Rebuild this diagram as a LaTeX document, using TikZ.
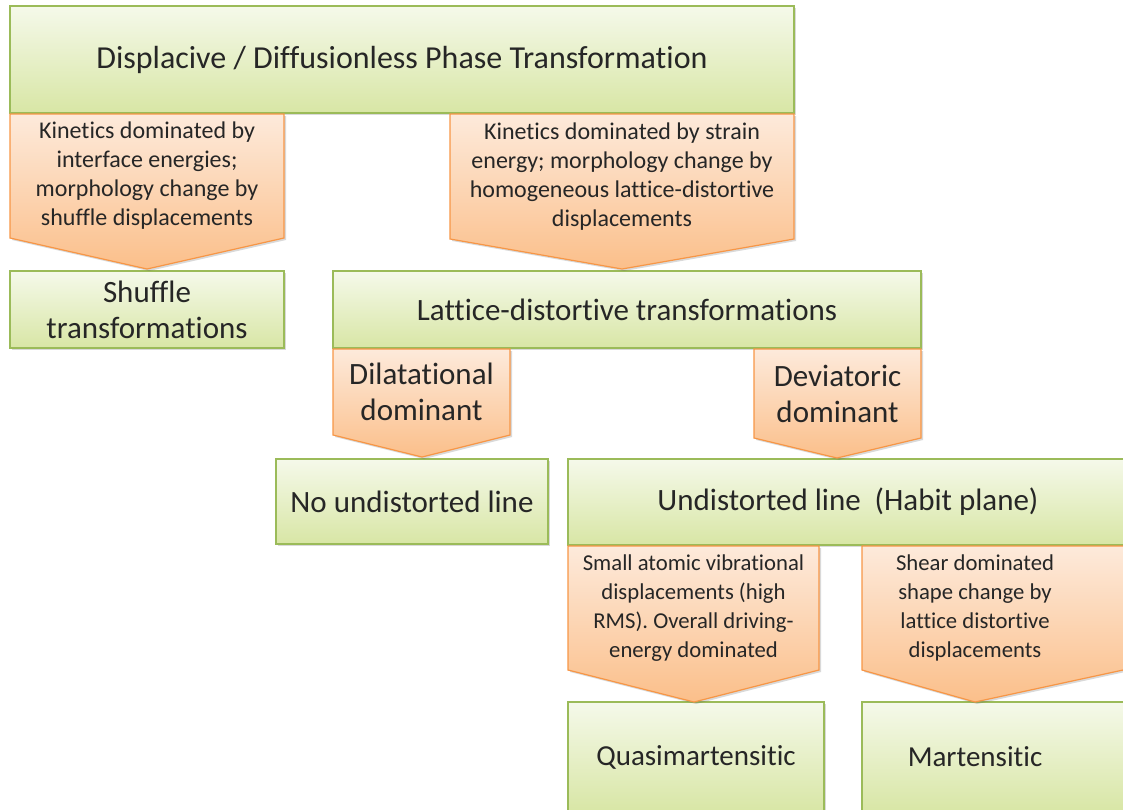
\documentclass[tikz,border=0pt]{standalone}
\usepackage{fontspec}
\setmainfont{Carlito}[Ligatures={NoCommon}]
\usetikzlibrary{shadows}

\definecolor{greentop}{HTML}{F5F9EA}
\definecolor{greenbot}{HTML}{D8E6A5}
\definecolor{greenline}{HTML}{9BBB59}
\definecolor{orangetop}{HTML}{FDEADB}
\definecolor{orangebot}{HTML}{FBBF8A}
\definecolor{orangeline}{HTML}{F79646}
\definecolor{inktext}{HTML}{262626}

\tikzset{
  greenbox/.style={rectangle,draw=greenline,line width=1.2pt,top color=greentop,bottom color=greenbot,
    inner sep=0pt,text=inktext,font=\fontsize{31}{36}\selectfont,align=center,
    drop shadow={shadow xshift=2pt,shadow yshift=-2pt,opacity=.25,fill=black!60}},
  orangebox/.style={draw=orangeline,line width=1.2pt,top color=orangetop,bottom color=orangebot,line join=miter,
    drop shadow={shadow xshift=2pt,shadow yshift=-2pt,opacity=.25,fill=black!60}},
  smalltext/.style={text=inktext,font=\fontsize{24}{29}\selectfont,align=center,inner sep=0pt},
  bigtext/.style={text=inktext,font=\fontsize{31}{36}\selectfont,align=center,inner sep=0pt}
}

\begin{document}
\begin{tikzpicture}[x=1pt,y=-1pt]
\useasboundingbox (0,0) rectangle (1123,809);

% green boxes
\node[greenbox,minimum width=784pt,minimum height=107pt,font=\fontsize{32}{38}\selectfont] (disp) at (402,59.5) {Displacive / Diffusionless Phase Transformation};
\node[greenbox,minimum width=274pt,minimum height=77pt] (shuf) at (147,309.5) {Shuffle\\transformations};
\node[greenbox,minimum width=588pt,minimum height=77pt] (latt) at (627,309.5) {Lattice-distortive transformations};
\node[greenbox,minimum width=272pt,minimum height=85pt] (noun) at (412,501.5) {No undistorted line};
\node[greenbox,minimum width=560pt,minimum height=86pt] (undi) at (848,502) {Undistorted line~~(Habit plane)};
\node[greenbox,minimum width=256pt,minimum height=110pt,font=\fontsize{29}{36}\selectfont] (quasi) at (696,757) {Quasimartensitic};
\node[greenbox,minimum width=268pt,minimum height=110pt] (mart) at (996,757) {};
\node[bigtext,font=\fontsize{29}{36}\selectfont] (martlbl) at (975,757) {Martensitic};

% orange chevrons
\draw[orangebox] (10,114) -- (284,114) -- (284,238) -- (147,269) -- (10,238) -- cycle;
\node[smalltext] (kinint) at (147,176) {Kinetics dominated by\\interface energies;\\morphology change by\\shuffle displacements};

\draw[orangebox] (450,114) -- (794,114) -- (794,239) -- (622,269) -- (450,239) -- cycle;
\node[smalltext] (kinstr) at (622,176.5) {Kinetics dominated by strain\\energy; morphology change by\\homogeneous lattice-distortive\\displacements};

\draw[orangebox] (333,349) -- (510,349) -- (510,435) -- (422,457) -- (333,435) -- cycle;
\node[bigtext] (dil) at (421.5,392) {Dilatational\\dominant};

\draw[orangebox] (754,349) -- (921,349) -- (921,438) -- (837,458) -- (754,438) -- cycle;
\node[bigtext] (dev) at (837.5,393.5) {Deviatoric\\dominant};

\draw[orangebox] (568,546) -- (819,546) -- (819,670) -- (694,702) -- (568,670) -- cycle;
\node[smalltext,font=\fontsize{22.7}{29}\selectfont] (vib) at (693.5,608) {Small atomic vibrational\\displacements (high\\RMS). Overall driving-\\energy dominated};

\draw[orangebox] (862,546) -- (1130,546) -- (1130,668.5) -- (975,702) -- (862,670) -- cycle;
\node[smalltext,font=\fontsize{22.7}{29}\selectfont] (shear) at (975,608) {Shear dominated\\shape change by\\lattice distortive\\displacements};
\end{tikzpicture}
\end{document}
